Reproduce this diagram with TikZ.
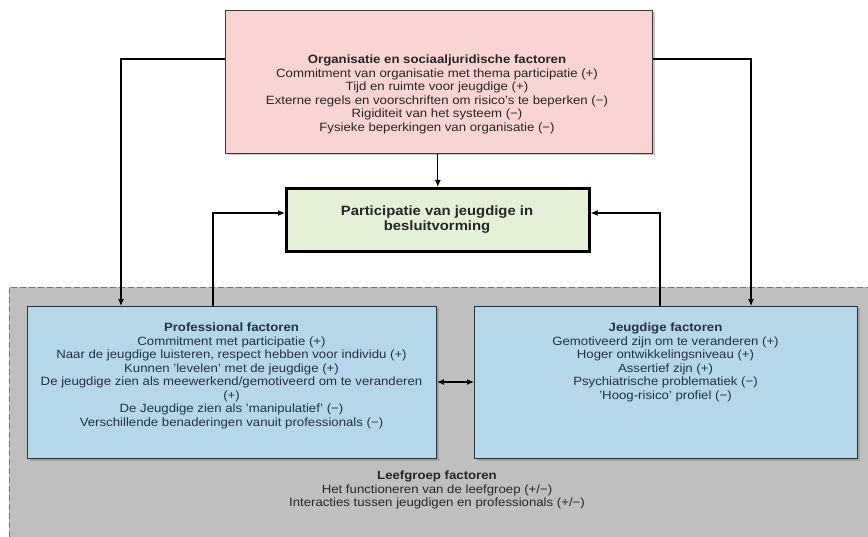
\documentclass[tikz,border=0pt]{standalone}
\usepackage{fontspec}
\setmainfont{Liberation Sans}[FakeStretch=1.1]
\usetikzlibrary{arrows.meta,shadows}
\definecolor{pinkfill}{HTML}{FAD4D3}
\definecolor{greenfill}{HTML}{E4F1D7}
\definecolor{bluefill}{HTML}{B5D7EA}
\definecolor{groupfill}{HTML}{BFBFBF}
\definecolor{boxtext}{HTML}{24323F}
\definecolor{edgegray}{HTML}{3A3A3A}
\begin{document}
\begin{tikzpicture}[x=1pt,y=-1pt,
  panel/.style={draw=edgegray, line width=1pt, inner sep=0pt,
    drop shadow={shadow xshift=2pt, shadow yshift=-2pt, opacity=0.45}},
  orgbox/.style={panel, fill=pinkfill},
  goalbox/.style={panel, fill=greenfill, draw=black, line width=2.6pt},
  factorbox/.style={panel, fill=bluefill, draw=boxtext},
  label/.style={align=center, inner sep=0pt, text=boxtext,
    font=\fontsize{12}{13.5}\selectfont},
  link/.style={line width=1.1pt, -{Latex[length=7pt,width=6pt]}},
  dlink/.style={line width=1.1pt, {Latex[length=7pt,width=6pt]}-{Latex[length=7pt,width=6pt]}}
]
\useasboundingbox (0,0) rectangle (868,537);
\fill[white] (0,0) rectangle (868,537);

% living-group zone
\fill[groupfill] (9,287) rectangle (868,537);
\draw[edgegray!70, line width=0.8pt, dash pattern=on 6pt off 3pt] (9,537) -- (9,287) -- (868,287);

% boxes
\node[orgbox, anchor=north west, minimum width=427pt, minimum height=143pt] (org) at (225,10) {};
\node[goalbox, anchor=north west, minimum width=303pt, minimum height=63pt] (goal) at (285,187) {};
\node[factorbox, anchor=north west, minimum width=409pt, minimum height=152pt] (prof) at (27,306) {};
\node[factorbox, anchor=north west, minimum width=383pt, minimum height=152pt] (jeugd) at (474,306) {};

% texts
\node[label, text=black!85, anchor=north] (orgtext) at (437,55) {%
  \textbf{Organisatie en sociaaljuridische factoren}\\
  Commitment van organisatie met thema participatie (+)\\
  Tijd en ruimte voor jeugdige (+)\\
  Externe regels en voorschriften om risico's te beperken (−)\\
  Rigiditeit van het systeem (−)\\
  Fysieke beperkingen van organisatie (−)};
\node[align=center, inner sep=0pt, text=black!85, font=\fontsize{13.5}{15}\selectfont\bfseries] (goaltext) at (437,220) {%
  Participatie van jeugdige in\\ besluitvorming};
\node[label, anchor=north] (proftext) at (231.5,323) {%
  \textbf{Professional factoren}\\
  Commitment met participatie (+)\\
  Naar de jeugdige luisteren, respect hebben voor individu (+)\\
  Kunnen 'levelen' met de jeugdige (+)\\
  De jeugdige zien als meewerkend/gemotiveerd om te veranderen\\
  (+)\\
  De Jeugdige zien als 'manipulatief' (−)\\
  Verschillende benaderingen vanuit professionals (−)};
\node[label, anchor=north] (jeugdtext) at (665.5,323) {%
  \textbf{Jeugdige factoren}\\
  Gemotiveerd zijn om te veranderen (+)\\
  Hoger ontwikkelingsniveau (+)\\
  Assertief zijn (+)\\
  Psychiatrische problematiek (−)\\
  'Hoog-risico' profiel (−)};
\node[label, text=black!85, anchor=north] (grouptext) at (437,471) {%
  \textbf{Leefgroep factoren}\\
  Het functioneren van de leefgroep (+/−)\\
  Interacties tussen jeugdigen en professionals (+/−)};

% connectors
\draw[link] (org.south -| goal.north) -- (goal.north);
\draw[link] (org.west |- 0,59) -| (prof.north -| 121,0);
\draw[link] (org.east |- 0,59) -| (jeugd.north -| 751,0);
\draw[link] (prof.north -| 213,0) |- (goal.west |- 0,213);
\draw[link] (jeugd.north -| 660,0) |- (goal.east |- 0,213);
\draw[dlink] (prof.east |- 0,382) -- (jeugd.west |- 0,382);
\end{tikzpicture}
\end{document}
